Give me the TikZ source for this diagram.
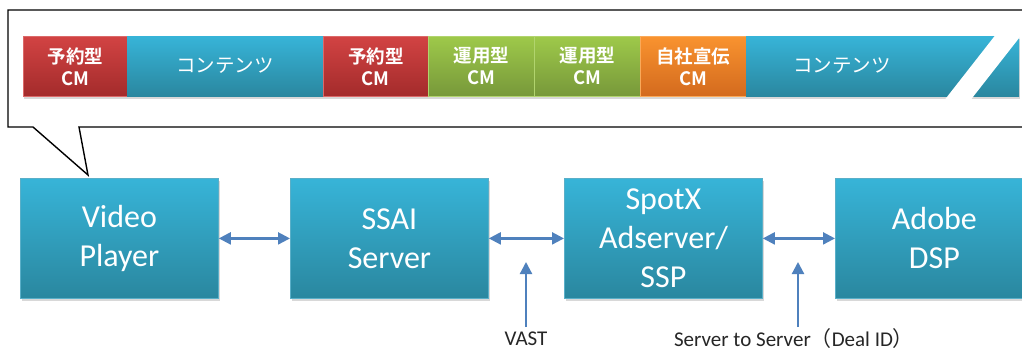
\documentclass[tikz,border=0pt]{standalone}
\usepackage{fontspec}
\setmainfont{Carlito}
\newfontfamily\jp{Noto Sans CJK JP}[BoldFont={Noto Sans CJK JP Bold}]
\usetikzlibrary{arrows.meta,shadows}
\definecolor{bluetop}{HTML}{37B4D8}
\definecolor{bluebot}{HTML}{2A879F}
\definecolor{boxedge}{HTML}{5AAFC8}
\definecolor{redtop}{HTML}{D24343}
\definecolor{redbot}{HTML}{A32B2B}
\definecolor{greentop}{HTML}{9EC94A}
\definecolor{greenbot}{HTML}{77983A}
\definecolor{orangetop}{HTML}{F9932F}
\definecolor{orangebot}{HTML}{D36A1E}
\definecolor{arrowblue}{HTML}{4F81BD}
\tikzset{
  segbox/.style={rectangle, inner sep=0pt, minimum height=60pt, anchor=north west,
    text=white, align=center, font=\jp\bfseries\fontsize{18.5}{22}\selectfont,
    drop shadow={shadow xshift=1pt, shadow yshift=-2.5pt, opacity=0.3}},
  redseg/.style={segbox, top color=redtop, bottom color=redbot, draw=redtop!80!white, line width=0.6pt},
  greenseg/.style={segbox, top color=greentop, bottom color=greenbot, draw=greentop!80!white, line width=0.6pt},
  orangeseg/.style={segbox, top color=orangetop, bottom color=orangebot, draw=orangetop!80!white, line width=0.6pt},
  blueseg/.style={segbox, top color=bluetop, bottom color=bluebot},
  conttext/.style={text=white, font=\jp\fontsize{19.5}{22}\selectfont, inner sep=0pt},
  flowbox/.style={rectangle, inner sep=0pt, minimum width=198pt, minimum height=120pt,
    anchor=north west, top color=bluetop, bottom color=bluebot, draw=boxedge, line width=0.8pt,
    text=white, align=center, font=\fontsize{32}{39}\selectfont,
    drop shadow={shadow xshift=1.5pt, shadow yshift=-3pt, opacity=0.3}},
  link/.style={arrowblue, line width=2.2pt, {Triangle[length=12pt,width=12pt]}-{Triangle[length=12pt,width=12pt]}},
  uplink/.style={arrowblue, line width=2.2pt, -{Triangle[length=12pt,width=12pt]}},
  lbl/.style={font=\fontsize{21}{24}\selectfont, inner sep=0pt, text=black!85}
}
\begin{document}
\begin{tikzpicture}[x=1pt,y=-1pt]
\clip (0,0) rectangle (1022,351);
\fill[white] (0,0) rectangle (1022,351);
% callout
\draw[black, line width=1.4pt, fill=white, line join=miter]
  (1040,10) -- (8,10) -- (8,127) -- (33,127) -- (88,175) -- (79,127) -- (1040,127);
% strip
\node[redseg, minimum width=104pt] (r1) at (23,36) {予約型\\CM};
\node[blueseg, minimum width=196pt] (c1) at (127,36) {};
\node[conttext] (c1t) at (225,66) {コンテンツ};
\node[redseg, minimum width=105pt] (r2) at (323,36) {予約型\\CM};
\node[greenseg, minimum width=106pt] (g1) at (428,36) {運用型\\CM};
\node[greenseg, minimum width=106pt] (g2) at (534,36) {運用型\\CM};
\node[orangeseg, minimum width=106pt] (o1) at (640,36) {自社宣伝\\CM};
\node[blueseg, minimum width=273pt] (c2) at (746,36) {};
\node[conttext] (c2t) at (842,66) {コンテンツ};
\fill[white] (997,33) -- (1023,33) -- (969,102) -- (943,102) -- cycle;
% flow boxes
\node[flowbox] (vp) at (20,178) {Video\\Player};
\node[flowbox] (ssai) at (290,178) {SSAI\\Server};
\node[flowbox] (spotx) at (564,178) {SpotX\\Adserver/\\SSP};
\node[flowbox] (adobe) at (835,178) {Adobe\\DSP};
% links
\draw[link] (vp.east) -- (ssai.west);
\draw[link] (ssai.east) -- (spotx.west);
\draw[link] (spotx.east) -- (adobe.west);
% labels
\node[lbl] (vast) at (526,339) {VAST};
\node[lbl] (s2s) at (794,339) {Server to Server{\jp （}Deal ID{\jp ）}};
\coordinate (vastbase) at (526,327);
\coordinate (vasttip) at (526,262);
\coordinate (s2sbase) at (798,327);
\coordinate (s2stip) at (798,262);
\draw[uplink] (vastbase) -- (vasttip);
\draw[uplink] (s2sbase) -- (s2stip);
\end{tikzpicture}
\end{document}
